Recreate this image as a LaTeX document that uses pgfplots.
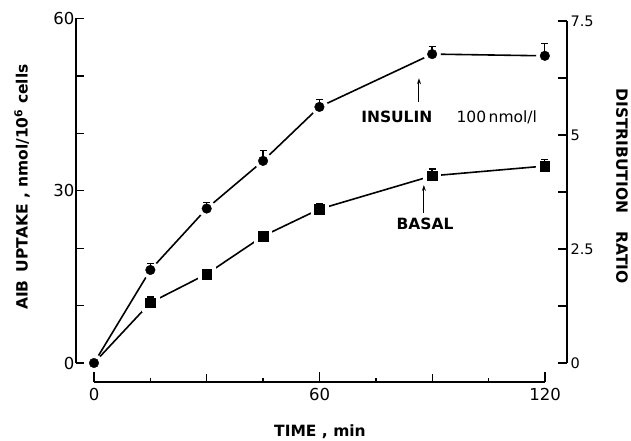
\documentclass[border=0pt]{standalone}
\usepackage{fontspec}
\setmainfont{DejaVu Sans}
\usepackage{pgfplots}
\usepackage{pgfplotstable}
\pgfplotsset{compat=1.18}
\usetikzlibrary{arrows.meta}

% time (min), AIB uptake, upper error
\pgfplotstableread{
t u e
0 0 0
15 16.2 1.1
30 26.9 1.1
45 35.2 1.8
60 44.6 1.3
90 53.8 1.3
120 53.5 2.1
}\insulin

\pgfplotstableread{
t u e
0 0 0
15 10.5 1.0
30 15.5 0.8
45 22.1 0.8
60 26.8 1.0
90 32.6 1.2
120 34.3 1.2
}\basal

\pgfplotsset{
  myax/.style={
    scale only axis, clip=false, anchor=south west,
    axis line style={line width=1.6pt},
    tick style={line width=1.3pt, black},
    tick align=inside,
    major tick length=8pt, minor tick length=8pt,
    /pgf/number format/assume math mode=true,
    ticklabel style={font=\fontsize{16.5}{16.5}\selectfont},
  },
  dataax/.style={myax, at={(76pt,78pt)}, width=491pt, height=344.5pt,
    xmin=-4.79, xmax=125.9, ymin=0, ymax=60},
  halo/.style={only marks, white, mark size=8.5pt},
  bars/.style={error bars/.cd, y dir=plus, y explicit, error mark=|,
    error bar style={line width=1.3pt},
    error mark options={line width=1.3pt, mark size=3.5pt}},
}

\begin{document}
\begin{tikzpicture}
\path[use as bounding box] (0pt,0pt) rectangle (631pt,441pt);

% lines + left axis
\begin{axis}[dataax, hide x axis, axis y line*=left,
  yticklabel style={xshift=2pt},
  ytick={0,30,60}, minor ytick={10,20,40,50}]
\addplot[black, line width=1.6pt] table[x=t,y=u]{\insulin};
\addplot[black, line width=1.6pt] table[x=t,y=u]{\basal};
\addplot[halo, mark=*] table[x=t,y=u]{\insulin};
\addplot[halo, mark=square*, skip coords between index={0}{1}] table[x=t,y=u]{\basal};

\node[font=\bfseries\fontsize{15.5}{15.5}\selectfont] at (axis cs:80.6,42.8) {INSULIN};
\node[font=\fontsize{15.5}{15.5}\selectfont] at (axis cs:107.2,42.8) {100\,nmol/l};
\node[font=\bfseries\fontsize{15.5}{15.5}\selectfont] at (axis cs:88.1,24.2) {BASAL};
\draw[line width=1pt, -{Stealth[length=6pt,width=4pt]}] (axis cs:86.5,45.5) -- (axis cs:86.5,49.6);
\draw[line width=1pt, -{Stealth[length=6pt,width=4pt]}] (axis cs:87.8,26.1) -- (axis cs:87.8,31.0);
\end{axis}

% markers and error bars on top
\begin{axis}[dataax, hide axis]
\addplot[black, only marks, mark=square*, mark size=4.8pt, skip coords between index={0}{1}, bars] table[x=t,y=u,y error=e]{\basal};
\addplot[black, only marks, mark=*, mark size=4.8pt, bars] table[x=t,y=u,y error=e]{\insulin};
\end{axis}

% right axis
\begin{axis}[myax, at={(76pt,78pt)}, width=491pt, height=342pt,
  xmin=0, xmax=1, ymin=0, ymax=7.5,
  hide x axis, axis y line*=right,
  major tick length=9pt, minor tick length=9pt,
  ytick={0,2.5,5,7.5}, minor ytick={1.25,3.75,6.25},
  ticklabel style={font=\fontsize{14.5}{14.5}\selectfont}]
\end{axis}

% time axis
\begin{axis}[myax, at={(94pt,59pt)}, width=451pt, height=20pt,
  xmin=0, xmax=120, ymin=0, ymax=1,
  hide y axis, axis x line*=bottom,
  xticklabel style={yshift=-3pt},
  xtick={0,60,120}, major tick length=10pt,
  extra x ticks={30,90}, extra x tick labels={},
  extra x tick style={major tick length=8pt},
  minor xtick={15,45,75,105}, minor tick length=4pt]
\end{axis}

\node[rotate=90, font=\bfseries\fontsize{15.5}{15.5}\selectfont] at (22pt,254pt)
  {AIB\hspace{8pt}UPTAKE , nmol/10\textsuperscript{6} cells};
\node[rotate=-90, font=\bfseries\fontsize{15.5}{15.5}\selectfont] at (622pt,255pt)
  {DISTRIBUTION\hspace{18pt}RATIO};
\node[font=\bfseries\fontsize{15.5}{15.5}\selectfont] at (320pt,9pt) {TIME , min};
\end{tikzpicture}
\end{document}
